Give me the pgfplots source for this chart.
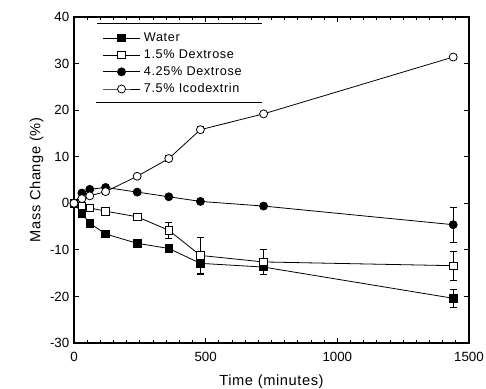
\documentclass[border=0pt]{standalone}
\usepackage{fontspec}
\setmainfont{Liberation Sans}
\usepackage{pgfplots}
\pgfplotsset{compat=1.18}
\begin{document}
\begin{tikzpicture}
\begin{axis}[
  scale only axis,
  width=296.25pt, height=244.5pt,
  xmin=0, xmax=1500, ymin=-30, ymax=40,
  xtick={0,500,1000,1500}, ytick={-30,-20,...,40},
  minor x tick num=9,
  tick align=inside,
  major tick length=4pt, minor tick length=2.5pt,
  axis line style={line width=1pt},
  every tick/.style={black, line width=0.6pt},
  /pgf/number format/assume math mode=true,
  /pgf/number format/set thousands separator={},
  tick label style={font=\fontsize{10}{11}\selectfont},
  xticklabel style={yshift=-3.5pt},
  xlabel={Time (minutes)}, ylabel={Mass Change (\%)},
  label style={font=\fontsize{11}{12}\selectfont\addfontfeature{LetterSpace=4}},
  xlabel style={yshift=-3pt},
  ylabel style={yshift=-2pt},
  legend style={draw=none, fill=none, at={(rel axis cs:0.068,0.965)}, anchor=north west,
    font=\fontsize{9.5}{10}\selectfont\addfontfeature{LetterSpace=5}, row sep=0.6pt, inner sep=1pt},
  legend cell align=left,
  legend image code/.code={\draw[mark repeat=2,mark phase=2] plot coordinates {(0pt,0pt) (14pt,0pt) (28pt,0pt)};},
  legend style={nodes={inner xsep=2.5pt}},
  error bars/error bar style={line width=0.6pt, black},
  error bars/error mark options={rotate=90, mark size=2.5pt, line width=0.6pt, black},
]
\addplot[black, line width=0.6pt, mark=square*, mark size=2.8pt, mark options={fill=black, solid},
  error bars/.cd, y dir=both, y explicit] coordinates {
  (0,0) +- (0,0)
  (30,-2.2) +- (0,0.5)
  (60,-4.3) +- (0,0.5)
  (120,-6.6) +- (0,0.5)
  (240,-8.6) +- (0,0.6)
  (360,-9.7) +- (0,0.6)
  (480,-12.9) +- (0,2.3)
  (720,-13.7) +- (0,1.6)
  (1440,-20.4) +- (0,2.0)
};
\addlegendentry{Water}
\addplot[black, line width=0.6pt, mark=square*, mark size=2.8pt, mark options={fill=white, solid},
  error bars/.cd, y dir=both, y explicit] coordinates {
  (0,0) +- (0,0)
  (30,-0.6) +- (0,0.4)
  (60,-1.0) +- (0,0.5)
  (120,-1.7) +- (0,0.5)
  (240,-2.9) +- (0,0.6)
  (360,-5.8) +- (0,1.8)
  (480,-11.2) +- (0,3.8)
  (720,-12.6) +- (0,2.7)
  (1440,-13.4) +- (0,3.1)
};
\addlegendentry{1.5\% Dextrose}
\addplot[black, line width=0.6pt, mark=*, mark size=3pt, mark options={fill=black, solid},
  error bars/.cd, y dir=both, y explicit] coordinates {
  (0,0) +- (0,0)
  (30,2.2) +- (0,0.4)
  (60,3.0) +- (0,0.5)
  (120,3.4) +- (0,0.5)
  (240,2.4) +- (0,0.4)
  (360,1.4) +- (0,0.4)
  (480,0.4) +- (0,0.4)
  (720,-0.6) +- (0,0.4)
  (1440,-4.6) +- (0,3.8)
};
\addlegendentry{4.25\% Dextrose}
\addplot[black, line width=0.6pt, mark=*, mark size=3pt, mark options={fill=white, solid},
  error bars/.cd, y dir=both, y explicit] coordinates {
  (0,0) +- (0,0)
  (30,1.0) +- (0,0.4)
  (60,1.6) +- (0,0.5)
  (120,2.5) +- (0,0.5)
  (240,5.8) +- (0,0.5)
  (360,9.6) +- (0,0.6)
  (480,15.8) +- (0,0.6)
  (720,19.2) +- (0,0.4)
  (1440,31.4) +- (0,0.5)
};
\addlegendentry{7.5\% Icodextrin}
\draw[line width=0.8pt] (rel axis cs:0.058,0.979) -- (rel axis cs:0.477,0.979);
\draw[line width=0.8pt] (rel axis cs:0.055,0.739) -- (rel axis cs:0.477,0.739);
\coordinate (bl) at (rel axis cs:0,0);
\coordinate (tr) at (rel axis cs:1,1);
\end{axis}
\pgfresetboundingbox
\useasboundingbox ([xshift=-55.5pt,yshift=-34.5pt]bl) rectangle ([xshift=12.75pt,yshift=12.75pt]tr);
\end{tikzpicture}
\end{document}
